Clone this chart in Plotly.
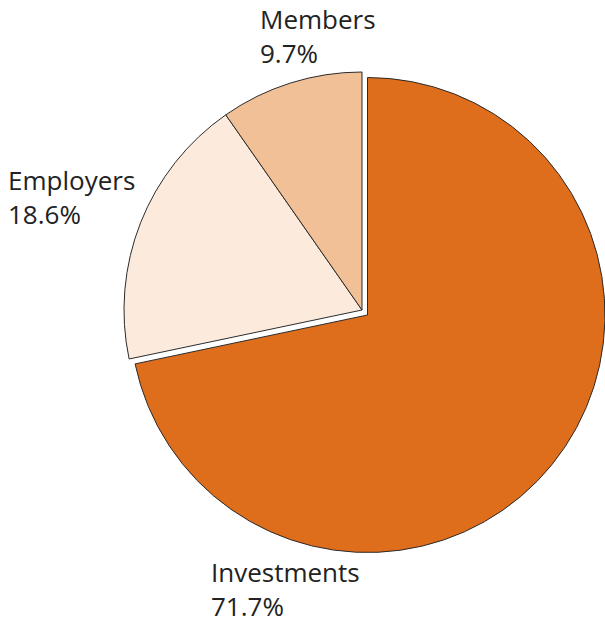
import plotly.graph_objects as go

# Funding sources, share of total (%)
labels = ["Investments", "Employers", "Members"]
shares = [71.7, 18.6, 9.7]
colors = ["#DE6E1C", "#FCEBDD", "#F2C097"]

W, H = 605, 624
EDGE = "#2b2b2b"

def dom_x(x0, x1):
    return [x0 / W, min(x1 / W, 1.0)]

def dom_y(top, bottom):
    return [(H - bottom) / H, (H - top) / H]

fig = go.Figure()

# Employers and Members wedges (Investments wedge left blank here)
fig.add_trace(go.Pie(
    labels=labels, values=shares, sort=False, direction="clockwise", rotation=0,
    marker=dict(colors=["rgba(0,0,0,0)", colors[1], colors[2]],
                line=dict(color=[EDGE, EDGE, EDGE], width=[0, 1, 1])),
    textinfo="none", hoverinfo="label+percent", showlegend=False,
    domain=dict(x=dom_x(124, 600), y=dom_y(72, 548)),
))

# Investments wedge, offset outward from the rest
fig.add_trace(go.Pie(
    labels=labels, values=shares, sort=False, direction="clockwise", rotation=0,
    marker=dict(colors=[colors[0], "rgba(0,0,0,0)", "rgba(0,0,0,0)"],
                line=dict(color=[EDGE, EDGE, EDGE], width=[1, 0, 0])),
    textinfo="none", hoverinfo="label+percent", showlegend=False,
    domain=dict(x=dom_x(130, 605), y=dom_y(77.5, 552.5)),
))

# Category labels with their shares
label_pos = {"Members": (259, 36), "Employers": (7, 197), "Investments": (210, 589)}
for name, val in zip(labels, shares):
    px, py = label_pos[name]
    fig.add_annotation(
        x=px / W, y=1 - py / H, xref="paper", yref="paper",
        xanchor="left", yanchor="middle", align="left", showarrow=False,
        text=f"{name}<br>{val}%", borderpad=0,
        font=dict(family="Open Sans", size=26, color="#222222"),
    )

fig.update_layout(
    width=W, height=H, margin=dict(l=0, r=0, t=0, b=0),
    paper_bgcolor="white", plot_bgcolor="white",
)

fig.write_html("out.html")
